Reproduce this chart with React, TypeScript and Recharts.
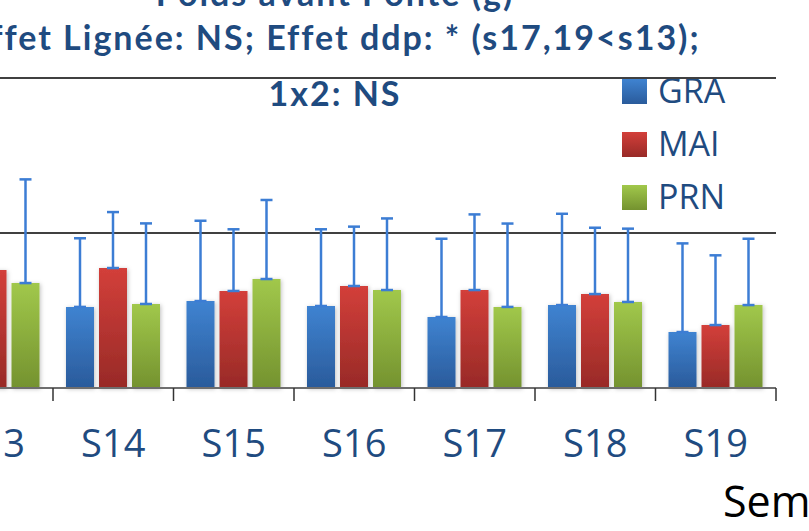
import { BarChart, Bar, XAxis, YAxis, CartesianGrid, ErrorBar, Legend } from 'recharts'

const weeks = ['S13', 'S14', 'S15', 'S16', 'S17', 'S18', 'S19']
const gra = [70, 52.3, 56.1, 52.9, 45.8, 53.5, 36.1]
const mai = [76.1, 77.4, 62.6, 65.8, 63.2, 60.6, 40.6]
const prn = [67.7, 54.2, 70.3, 63.2, 52.3, 55.5, 53.5]
const graSd = [55, 44.3, 51.8, 49.5, 50.5, 58.9, 57.2]
const maiSd = [60, 36.1, 39.8, 38.3, 48.8, 42.8, 45]
const prnSd = [66.9, 52, 51, 46.2, 53.8, 47.3, 42.8]
const yTicks = [0, 100, 200]

const titleLines = [
  'Poids avant Ponte (g)',
  'Effet Lignée: NS; Effet ddp: * (s17,19<s13);',
  '1x2: NS',
]
const xTitle = 'Semaine'

const data = weeks.map((week, i) => ({
  week,
  GRA: gra[i],
  MAI: mai[i],
  PRN: prn[i],
  graErr: [0, graSd[i]],
  maiErr: [0, maiSd[i]],
  prnErr: [0, prnSd[i]],
}))

const series = [
  { key: 'GRA', err: 'graErr', top: '#3f83d1', bottom: '#2a5b9b' },
  { key: 'MAI', err: 'maiErr', top: '#d33f3a', bottom: '#982a27' },
  { key: 'PRN', err: 'prnErr', top: '#a1c84b', bottom: '#74922f' },
]

// the reference is a crop of a bigger chart: draw the whole thing and shift it
const SHIFT_X = 200
const SHIFT_Y = 60
const CHART_W = 1000
const CHART_H = 591
const MARGIN = { top: 138, right: 24, bottom: 83, left: 132.5 }
const BLUE_TEXT = '#1f4b80'
const ERR_COLOR = '#3c7dd4'

const halfBand = (CHART_W - MARGIN.left - MARGIN.right) / weeks.length / 2

const WeekTick = (props: any) => {
  const { x, y, payload, index, visibleTicksCount } = props
  const last = index === visibleTicksCount - 1
  return (
    <g>
      <line x1={x - halfBand} x2={x - halfBand} y1={y} y2={y + 13} stroke='#333' strokeWidth={1.5} />
      {last && <line x1={x + halfBand} x2={x + halfBand} y1={y} y2={y + 13} stroke='#333' strokeWidth={1.5} />}
      <text x={x} y={y + 69} textAnchor='middle' fill={BLUE_TEXT} fontSize={38} fontFamily='"Open Sans", sans-serif'>
        {payload.value}
      </text>
    </g>
  )
}

const renderLegend = (props: any) => {
  const items = props.payload || []
  return (
    <svg width={150} height={140}>
      {items.map((item: any, i: number) => (
        <g key={item.value}>
          <rect x={0} y={i * 53} width={25} height={25} fill={`url(#grad-${item.value})`} />
          <text x={36} y={i * 53 + 24} fill={BLUE_TEXT} fontSize={34} fontFamily='"Open Sans", sans-serif'>
            {item.value}
          </text>
        </g>
      ))}
    </svg>
  )
}

const App = () => {
  return (
    <div style={{ position: 'fixed', left: 0, top: 0, width: 809, height: 531, overflow: 'hidden', background: '#fff' }}>
      <div style={{ position: 'absolute', left: -SHIFT_X, top: -SHIFT_Y }}>
        <BarChart width={CHART_W} height={CHART_H} data={data} margin={MARGIN} barSize={28} barGap={5}>
          <defs>
            {series.map((s) => (
              <linearGradient key={s.key} id={`grad-${s.key}`} x1='0' y1='0' x2='0' y2='1'>
                <stop offset='0%' stopColor={s.top} />
                <stop offset='100%' stopColor={s.bottom} />
              </linearGradient>
            ))}
            <filter id='barShadow' x='-30%' y='-10%' width='160%' height='120%'>
              <feDropShadow dx={1} dy={1} stdDeviation={2} floodColor='#000' floodOpacity={0.25} />
            </filter>
          </defs>
          <CartesianGrid vertical={false} stroke='#000' strokeWidth={1.5} />
          <XAxis
            dataKey='week'
            height={60}
            axisLine={{ stroke: '#6e6e6e', strokeWidth: 2 }}
            tickLine={false}
            tickSize={0}
            tickMargin={0}
            tick={<WeekTick />}
            interval={0}
          />
          <YAxis hide domain={[0, 200]} ticks={yTicks} />
          <Legend
            layout='vertical'
            align='center'
            verticalAlign='middle'
            content={renderLegend}
            wrapperStyle={{ left: 622 + SHIFT_X, top: 79 + SHIFT_Y, width: 150, height: 140 }}
          />
          {series.map((s) => (
            <Bar key={s.key} dataKey={s.key} name={s.key} fill={`url(#grad-${s.key})`} filter='url(#barShadow)' isAnimationActive={false}>
              <ErrorBar dataKey={s.err} direction='y' width={6} stroke={ERR_COLOR} strokeWidth={2.5} isAnimationActive={false} />
            </Bar>
          ))}
        </BarChart>
      </div>
      <svg width={809} height={531} style={{ position: 'absolute', left: 0, top: 0, pointerEvents: 'none' }}>
        <g fill={BLUE_TEXT} fontWeight='bold' fontSize={34} letterSpacing={2} fontFamily='Lato, sans-serif' textAnchor='middle'>
          <text x={335} y={6}>{titleLines[0]}</text>
          <text x={335} y={50}>{titleLines[1]}</text>
          <text x={335} y={106}>{titleLines[2]}</text>
        </g>
        <text x={723} y={517} fill='#000' fontSize={43} fontFamily='"Open Sans", sans-serif'>
          {xTitle}
        </text>
      </svg>
    </div>
  )
}

export default App
